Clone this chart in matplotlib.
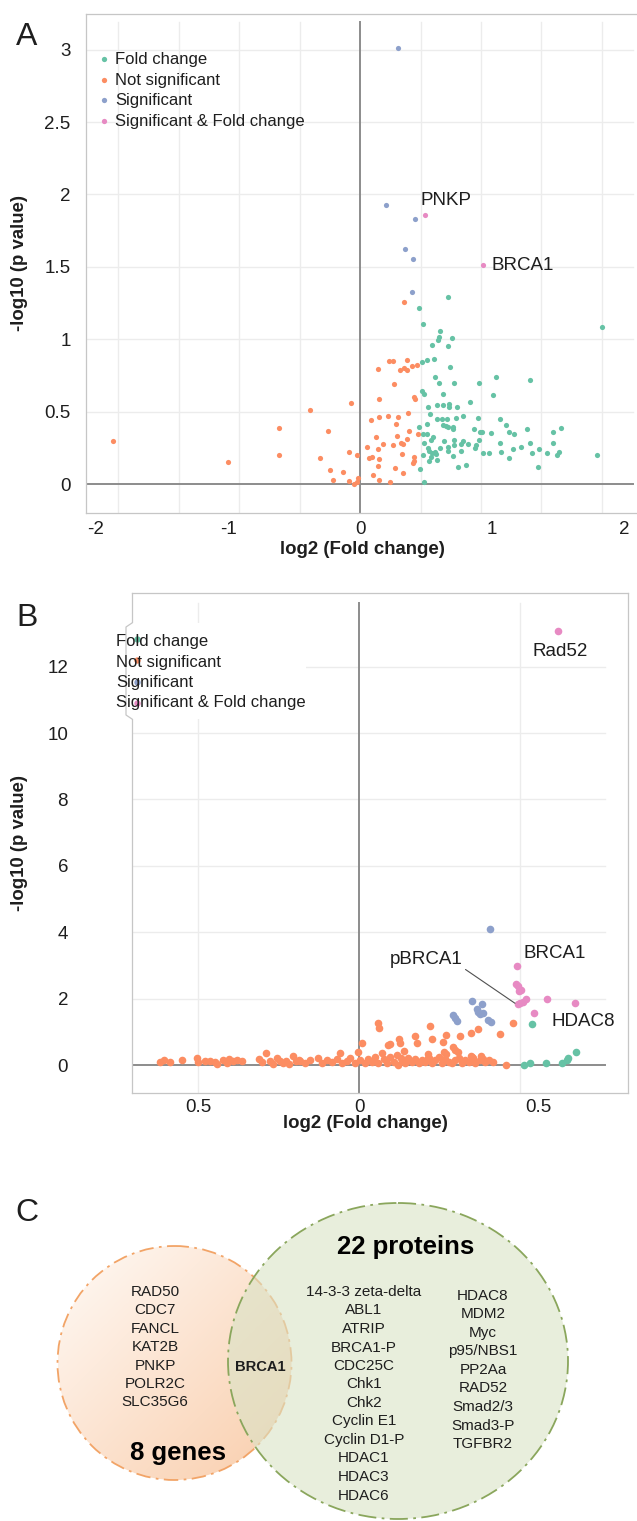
import numpy as np
import matplotlib.pyplot as plt
from matplotlib.patches import Circle, Ellipse, Rectangle
from matplotlib.lines import Line2D
from matplotlib.colors import LinearSegmentedColormap

plt.rcParams['font.family'] = ['Liberation Sans', 'DejaVu Sans']
plt.rcParams['axes.unicode_minus'] = False

W, H = 637, 1521
GREEN, ORANGE, BLUE, PINK = '#66c2a5', '#fc8d62', '#8da0cb', '#e78ac3'
GRID = '#ececec'
ZERO = '#8c8c8c'
FRAME = '#c6c6c6'
TXT = '#1e1e1e'

categories = ['Fold change', 'Not significant', 'Significant', 'Significant & Fold change']
cat_colors = [GREEN, ORANGE, BLUE, PINK]

# ---------------- panel A : transcript volcano ----------------
a_fc_x = [0.669, 0.449, 0.475, 1.831, 0.606, 0.601, 0.694, 0.588, 0.545, 0.669,
          0.563, 0.505, 0.467, 0.682, 1.030, 1.288, 0.566, 0.601, 0.712, 0.899,
          0.467, 0.485, 0.626, 1.005, 0.833, 0.518, 0.581, 0.626, 0.674, 0.674,
          0.732, 0.530, 0.581, 0.619, 0.662, 0.727, 0.783, 0.891, 1.061, 0.505,
          0.444, 0.631, 0.649, 0.669, 0.702, 0.707, 0.863, 0.909, 0.926, 1.106,
          1.126, 1.166, 1.265, 1.523, 1.464, 0.480, 0.505, 0.551, 0.538, 0.485,
          0.634, 0.712, 0.778, 0.816, 0.876, 0.901, 0.992, 1.061, 1.222, 1.285,
          1.464, 0.513, 0.568, 0.606, 0.664, 0.710, 0.763, 0.763, 0.871, 0.523,
          0.548, 0.576, 0.480, 0.538, 0.586, 0.669, 0.702, 0.929, 0.980, 1.068,
          1.162, 1.301, 1.353, 1.414, 1.490, 1.510, 1.793, 1.131, 0.523, 0.455,
          0.745, 0.803, 1.346, 0.485]
a_fc_y = [1.295, 1.215, 1.104, 1.088, 1.061, 1.019, 1.012, 0.996, 0.964, 0.955,
          0.865, 0.858, 0.842, 0.812, 0.743, 0.720, 0.739, 0.702, 0.702, 0.697,
          0.645, 0.622, 0.622, 0.615, 0.569, 0.537, 0.546, 0.548, 0.555, 0.534,
          0.537, 0.484, 0.454, 0.454, 0.451, 0.456, 0.470, 0.456, 0.449, 0.417,
          0.394, 0.412, 0.405, 0.399, 0.394, 0.380, 0.382, 0.362, 0.364, 0.412,
          0.362, 0.346, 0.382, 0.387, 0.359, 0.350, 0.350, 0.330, 0.307, 0.288,
          0.302, 0.307, 0.302, 0.277, 0.275, 0.307, 0.355, 0.288, 0.261, 0.284,
          0.288, 0.249, 0.226, 0.249, 0.261, 0.272, 0.277, 0.233, 0.249, 0.233,
          0.219, 0.210, 0.203, 0.187, 0.169, 0.231, 0.199, 0.215, 0.215, 0.222,
          0.242, 0.215, 0.242, 0.215, 0.203, 0.226, 0.205, 0.180, 0.162, 0.104,
          0.123, 0.137, 0.123, 0.015]

a_ns_x = [0.336, 0.134, 0.220, 0.247, 0.354, 0.303, 0.333, 0.359, 0.394, 0.429,
          0.260, 0.146, 0.412, 0.419, -0.071, 0.366, 0.081, 0.146, 0.215, 0.290,
          0.270, -0.245, 0.369, 0.437, 0.121, 0.283, 0.354, 0.311, 0.328, 0.172,
          0.247, 0.056, 0.139, -0.086, 0.318, -0.025, 0.409, 0.071, 0.093, 0.146,
          0.409, 0.404, 0.134, -0.230, 0.265, -0.126, 0.323, 0.096, -0.202, -0.081,
          0.144, -0.013, -0.021, -0.046, 0.227, -0.303, -1.869, -1.002, -0.611, -0.611,
          -0.379]
a_ns_y = [1.261, 0.799, 0.854, 0.854, 0.861, 0.787, 0.803, 0.787, 0.817, 0.826,
          0.691, 0.589, 0.605, 0.587, 0.560, 0.491, 0.447, 0.463, 0.475, 0.463,
          0.419, 0.371, 0.371, 0.348, 0.325, 0.337, 0.316, 0.288, 0.281, 0.279,
          0.272, 0.256, 0.245, 0.224, 0.210, 0.201, 0.187, 0.183, 0.190, 0.176,
          0.160, 0.148, 0.127, 0.097, 0.111, 0.086, 0.081, 0.065, 0.033, 0.024,
          0.031, 0.047, 0.015, 0.001, 0.015, 0.180, 0.298, 0.155, 0.388, 0.206,
          0.516]

a_sig_x = [0.286, 0.195, 0.419, 0.341, 0.404, 0.396]
a_sig_y = [3.008, 1.925, 1.829, 1.622, 1.557, 1.330]

a_sfc_x = [0.495, 0.929]
a_sfc_y = [1.859, 1.511]
a_sfc_names = ['PNKP', 'BRCA1']

# ---------------- panel B : protein volcano ----------------
b_fc_x = [0.536, 0.675, 0.511, 0.531, 0.579, 0.631, 0.645, 0.650]
b_fc_y = [1.24, 0.39, -0.01, 0.05, 0.05, 0.05, 0.15, 0.20]

b_ns_x = [-0.618, -0.607, -0.587, -0.551, -0.504, -0.499, -0.478, -0.463, -0.447, -0.440,
          -0.421, -0.409, -0.404, -0.390, -0.378, -0.364, -0.312, -0.302, -0.289, -0.278,
          -0.266, -0.256, -0.247, -0.237, -0.227, -0.216, -0.204, -0.197, -0.188,
          -0.183, -0.168, -0.152, -0.126, -0.116, -0.100, -0.085, -0.069, -0.059, -0.054,
          -0.038, -0.028, -0.012, -0.002, 0.003, 0.019, 0.029, 0.040, 0.050, 0.060,
          0.071, 0.076, 0.086, 0.097, 0.107, 0.117, 0.122, 0.133, 0.143, 0.153,
          0.164, 0.174, 0.185, 0.195, 0.205, 0.216, 0.226, 0.236, 0.247, 0.257,
          0.267, 0.278, 0.288, 0.298, 0.309, 0.319, 0.329, 0.340, 0.350, 0.360,
          0.376, 0.392, 0.402, 0.417, 0.456,
          0.058, 0.063, 0.008, 0.089, 0.097, 0.124, 0.127, 0.140, 0.131, 0.174,
          0.181, 0.219, 0.226, 0.213, 0.214, 0.269, 0.262, 0.264, 0.270, 0.291,
          0.298, 0.307, 0.314, 0.347, 0.369, 0.437, 0.479, 0.348, 0.355, 0.379,
          0.384]
b_ns_y = [0.10, 0.15, 0.08, 0.14, 0.20, 0.10, 0.12, 0.13, 0.08, 0.03,
          0.15, 0.07, 0.17, 0.12, 0.15, 0.12, 0.17, 0.10, 0.35, 0.11,
          0.03, 0.20, 0.13, 0.05, 0.13, 0.03, 0.27, 0.11, 0.16,
          0.13, 0.07, 0.15, 0.20, 0.05, 0.15, 0.10, 0.17, 0.35, 0.05,
          0.13, 0.20, 0.07, 0.40, 0.15, 0.05, 0.17, 0.10, 0.25, 0.07,
          0.35, 0.17, 0.05, 0.23, 0.10, 0.30, 0.00, 0.15, 0.05, 0.20,
          0.10, 0.17, 0.05, 0.15, 0.10, 0.20, 0.07, 0.15, 0.25, 0.05,
          0.17, 0.10, 0.05, 0.15, 0.20, 0.05, 0.15, 0.10, 0.25, 0.07,
          0.15, 0.09, 0.15, 0.09, -0.01,
          1.26, 1.11, 0.67, 0.59, 0.63, 0.77, 0.65, 0.41, 0.21, 0.87,
          0.65, 1.18, 0.77, 0.33, 0.20, 0.91, 0.68, 0.40, 0.33, 0.55,
          0.45, 0.40, 0.87, 0.95, 1.09, 0.93, 1.28, 0.27, 0.20, 0.27,
          0.17]

b_sig_x = [0.405, 0.350, 0.383, 0.365, 0.369, 0.376, 0.385, 0.293, 0.298, 0.303, 0.400, 0.409]
b_sig_y = [4.10, 1.93, 1.84, 1.68, 1.59, 1.55, 1.58, 1.52, 1.41, 1.32, 1.36, 1.30]

b_sfc_x = [0.617, 0.491, 0.488, 0.493, 0.497, 0.504, 0.517, 0.508, 0.493, 0.500, 0.584, 0.669, 0.543]
b_sfc_y = [13.07, 2.98, 2.45, 2.38, 2.22, 2.25, 2.00, 1.91, 1.84, 1.87, 1.99, 1.87, 1.58]

# ---------------- panel C : overlap of hits ----------------
genes_only = ['RAD50', 'CDC7', 'FANCL', 'KAT2B', 'PNKP', 'POLR2C', 'SLC35G6']
shared = ['BRCA1']
proteins_col1 = ['14-3-3 zeta-delta', 'ABL1', 'ATRIP', 'BRCA1-P', 'CDC25C', 'Chk1', 'Chk2',
                 'Cyclin E1', 'Cyclin D1-P', 'HDAC1', 'HDAC3', 'HDAC6']
proteins_col2 = ['HDAC8', 'MDM2', 'Myc', 'p95/NBS1', 'PP2Aa', 'RAD52', 'Smad2/3',
                 'Smad3-P', 'TGFBR2']


def fx(x):
    return x / W


def fy(y):
    return 1 - y / H


def box(left, top, right, bottom):
    return [left / W, 1 - bottom / H, (right - left) / W, (bottom - top) / H]


def style_axes(ax, gx, gy, grid_right, grid_top, ypad):
    for s in ax.spines.values():
        s.set_color(FRAME)
        s.set_linewidth(0.9)
    ax.tick_params(length=0, labelsize=13.5, colors=TXT)
    ax.tick_params(axis='y', pad=ypad)
    ax.tick_params(axis='x', pad=6)
    for g in gx:
        ax.axvline(g, ymax=grid_top, color=GRID, lw=1.0, zorder=0)
    for g in gy:
        ax.axhline(g, xmax=grid_right, color=GRID, lw=1.0, zorder=0)
    ax.axhline(0, xmax=grid_right, color=ZERO, lw=1.4, zorder=1)
    ax.axvline(0, ymax=grid_top, color=ZERO, lw=1.4, zorder=1)


fig = plt.figure(figsize=(W / 100, H / 100), dpi=100)

# ---- A
axA = fig.add_axes(box(86, 14, 636, 513))
axA.set_xlim(-2.076, 2.091)
axA.set_ylim(-0.197, 3.245)
axA.set_xticks([-2, -1, 0, 1, 2])
axA.set_xticklabels(['-2', '-1', '0', '1', '2'])
axA.set_yticks([0, 0.5, 1, 1.5, 2, 2.5, 3])
axA.set_yticklabels(['0', '0.5', '1', '1.5', '2', '2.5', '3'])
grid_step = 0.4583
style_axes(axA, [grid_step * k for k in (-4, -3, -2, -1, 1, 2, 3, 4)],
           [0.5, 1, 1.5, 2, 2.5, 3], 0.9945, 0.984, 11)
axA.spines['right'].set_visible(False)

for xs, ys, c in [(a_fc_x, a_fc_y, GREEN), (a_ns_x, a_ns_y, ORANGE),
                  (a_sig_x, a_sig_y, BLUE), (a_sfc_x, a_sfc_y, PINK)]:
    axA.scatter(xs, ys, s=14, color=c, linewidths=0, zorder=3)

axA.text(0.46, 1.962, a_sfc_names[0], fontsize=13.5, color=TXT, va='center', ha='left')
axA.text(0.998, 1.507, a_sfc_names[1], fontsize=13.5, color=TXT, va='center', ha='left')

for i, (lab, c) in enumerate(zip(categories, cat_colors)):
    ry = 59 + i * 20.7
    fig.add_artist(Line2D([fx(104)], [fy(ry)], marker='o', ms=3.8, mew=0, color=c,
                          transform=fig.transFigure))
    fig.text(fx(115), fy(ry + 0.5), lab, fontsize=12, color=TXT, va='center', ha='left')

fig.text(fx(20), fy(263), '-log10 (p value)', rotation=90, fontsize=13.4,
         fontweight='bold', color=TXT, ha='center', va='center')
fig.text(fx(362), fy(549), 'log2 (Fold change)', fontsize=13.4,
         fontweight='bold', color=TXT, ha='center', va='center')
fig.text(fx(27), fy(37), 'A', fontsize=23, color=TXT, ha='center', va='center')

# ---- B
axB = fig.add_axes(box(132, 593, 628, 1093))
axB.set_xlim(-0.705, 0.835)
axB.set_ylim(-0.843, 14.217)
axB.set_yticks([0, 2, 4, 6, 8, 10, 12])
axB.set_yticklabels(['0', '2', '4', '6', '8', '10', '12'])
axB.set_xticks([-0.5, 0, 0.5])
axB.set_xticklabels([])
style_axes(axB, [-0.5, 0.5], [2, 4, 6, 8, 10, 12], 0.954, 0.98, 46)

b_xticks = [-0.5, 0, 0.5]
b_xlabels = ['0.5', '0', '0.5']
b_xshift = [0, 0, 18]
for v, lab, dx in zip(b_xticks, b_xlabels, b_xshift):
    axB.annotate(lab, xy=(v, 0), xycoords=('data', 'axes fraction'), xytext=(dx, -14),
                 textcoords='offset pixels', ha='center', va='center',
                 fontsize=13.5, color=TXT)

for xs, ys, c in [(b_ns_x, b_ns_y, ORANGE), (b_fc_x, b_fc_y, GREEN),
                  (b_sig_x, b_sig_y, BLUE), (b_sfc_x, b_sfc_y, PINK)]:
    axB.scatter(xs, ys, s=30, color=c, linewidths=0, zorder=3)

axB.text(0.624, 12.44, 'Rad52', fontsize=13.5, color=TXT, ha='center', va='center')
axB.text(0.509, 3.37, 'BRCA1', fontsize=13.5, color=TXT, ha='left', va='center')
axB.text(0.596, 1.30, 'HDAC8', fontsize=13.5, color=TXT, ha='left', va='center')
axB.annotate('pBRCA1', xy=(b_sfc_x[8] - 0.009, b_sfc_y[8] + 0.02), xytext=(0.096, 3.19),
             fontsize=13.5, color=TXT, ha='left', va='center',
             arrowprops=dict(arrowstyle='-', color='#505050', lw=0.8,
                             relpos=(1, 0), shrinkA=0, shrinkB=0))

# legend box sitting over the left frame
fig.add_artist(Rectangle((fx(126.5), fy(719)), (306 - 126.5) / W, 96 / H,
                         transform=fig.transFigure, fc='white', ec='none', zorder=1))
fig.add_artist(Line2D([fx(132), fx(126), fx(126), fx(132)], [fy(623), fy(627), fy(715), fy(719)],
                      color=FRAME, lw=0.9, transform=fig.transFigure, zorder=1.5))
for i, (lab, c) in enumerate(zip(categories, cat_colors)):
    fig.add_artist(Line2D([fx(137)], [fy(639 + i * 21.3)], marker='o', ms=4.6, mew=0, color=c,
                          transform=fig.transFigure, zorder=2))
    fig.text(fx(116), fy(642 + i * 20), lab, fontsize=12, color=TXT, va='center', ha='left',
             zorder=3)

fig.text(fx(20), fy(843), '-log10 (p value)', rotation=90, fontsize=13.4,
         fontweight='bold', color=TXT, ha='center', va='center')
fig.text(fx(365), fy(1124), 'log2 (Fold change)', fontsize=13.4,
         fontweight='bold', color=TXT, ha='center', va='center')
fig.text(fx(27), fy(618), 'B', fontsize=23, color=TXT, ha='center', va='center')

# ---- C
axC = fig.add_axes([0, 0, 1, 381 / H])
axC.axis('off')

gene_c, gene_r = (174.5, 1363), 117
prot_c, prot_w, prot_h = (398, 1361), 340, 316

peach = LinearSegmentedColormap.from_list('peach', ['#fffaf6', '#f9cdab'])
gg = np.linspace(0, 1, 200)
gxx, gyy = np.meshgrid(gg, gg)
shade = axC.imshow((gxx + gyy) / 2, cmap=peach, origin='upper', zorder=1,
                   extent=(gene_c[0] - gene_r, gene_c[0] + gene_r,
                           gene_c[1] + gene_r, gene_c[1] - gene_r))
clip = Circle(gene_c, gene_r, transform=axC.transData, fc='none', ec='none')
axC.add_patch(clip)
shade.set_clip_path(clip)
axC.add_patch(Circle(gene_c, gene_r, fill=False, ec='#f2a467', lw=1.3,
                     ls=(0, (8, 3, 1.5, 3)), zorder=2))
axC.add_patch(Ellipse(prot_c, prot_w, prot_h, fc='#d9e3c6', alpha=0.6, ec='none', zorder=3))
axC.add_patch(Ellipse(prot_c, prot_w, prot_h, fill=False, ec='#8aa65c', lw=1.3,
                      ls=(0, (10, 3, 1.5, 3)), zorder=4))
axC.set_xlim(0, W)
axC.set_ylim(H, 1140)
axC.set_aspect('auto')

for i, g in enumerate(genes_only):
    axC.text(155, 1292 + i * 18.4, g, fontsize=11, color=TXT, ha='center', va='center', zorder=5)
axC.text(260, 1367, shared[0], fontsize=10.6, fontweight='bold', color=TXT,
         ha='center', va='center', zorder=5)
for i, p in enumerate(proteins_col1):
    axC.text(364, 1292 + i * 18.5, p, fontsize=11, color=TXT, ha='center', va='center', zorder=5)
for i, p in enumerate(proteins_col2):
    axC.text(483, 1296 + i * 18.5, p, fontsize=11, color=TXT, ha='center', va='center', zorder=5)

n_genes = len(genes_only) + len(shared)
n_proteins = len(proteins_col1) + len(proteins_col2) + len(shared)
axC.text(178, 1453, f'{n_genes} genes', fontsize=18.5, fontweight='bold', color='black',
         ha='center', va='center', zorder=5)
axC.text(406, 1247, f'{n_proteins} proteins', fontsize=18.5, fontweight='bold', color='black',
         ha='center', va='center', zorder=5)
fig.text(fx(27), fy(1213), 'C', fontsize=23, color=TXT, ha='center', va='center')

fig.savefig('out.png', dpi=100)
